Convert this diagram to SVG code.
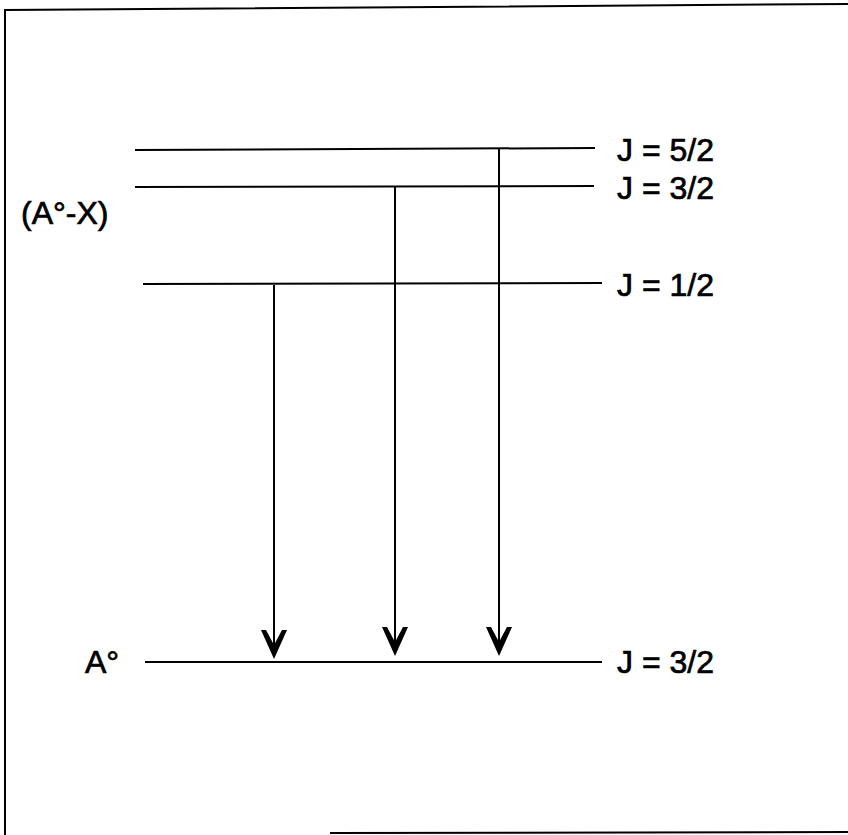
<svg xmlns="http://www.w3.org/2000/svg" width="848" height="835" viewBox="0 0 848 835">
<style>
.lvl{stroke:#000;stroke-width:2;fill:none}
.frame{stroke:#000;stroke-width:2;fill:none}
.arr{stroke:#000;stroke-width:2;fill:none}
.head{fill:#000;stroke:none}
text{font-family:"Liberation Sans",Arial,sans-serif;font-size:32px;fill:#000;stroke:#000;stroke-width:0.7}
</style>
<rect width="848" height="835" fill="#fff"/>
<g id="frame">
<polyline class="frame" points="5,835 5,10 848,4"/>
<line class="frame" x1="330" y1="833" x2="848" y2="832"/>
</g>
<g id="level-j52"><line class="lvl" x1="135" y1="150" x2="595" y2="148"/><text x="617" y="161">J = 5/2</text></g>
<g id="level-j32"><line class="lvl" x1="135" y1="187" x2="594" y2="186"/><text x="617" y="199">J = 3/2</text></g>
<g id="level-j12"><line class="lvl" x1="143" y1="284" x2="602" y2="283"/><text x="617" y="296">J = 1/2</text></g>
<g id="label-ax"><text x="21" y="224">(A°-X)</text></g>
<g id="level-ground"><line class="lvl" x1="145" y1="662" x2="602" y2="662"/><text x="617" y="673">J = 3/2</text><text x="85" y="673">A°</text></g>
<g id="connectors">
<line class="arr" x1="274" y1="285" x2="274" y2="648"/>
<path class="head" d="M274,659 L261,630 L266,630 L274,645 L282,630 L287,630 Z"/>
<line class="arr" x1="395" y1="187" x2="395" y2="645"/>
<path class="head" d="M395,656 L382,627 L387,627 L395,642 L403,627 L408,627 Z"/>
<line class="arr" x1="499" y1="149" x2="499" y2="645"/>
<path class="head" d="M499,656 L486,627 L491,627 L499,642 L507,627 L512,627 Z"/>
</g>
</svg>
